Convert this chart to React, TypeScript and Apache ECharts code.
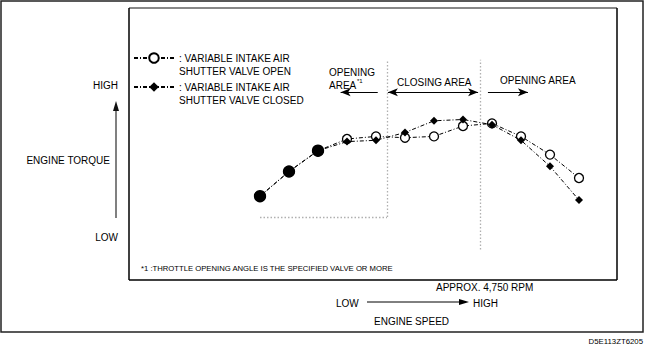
import React, { useEffect, useRef } from "react";
import * as echarts from "echarts";

// ---- data ----
const speedIdx = [1, 2, 3, 4, 5, 6, 7, 8, 9, 10, 11, 12];
const torqueOpen = [26, 45, 61, 70, 72, 71, 72, 80, 82, 72, 58, 40];
const torqueClosed = [26, 45, 61, 68, 69, 75, 84, 85, 81, 69, 49, 23];
const sharedCount = 3; // first points where both curves coincide
const nameOpen = "VARIABLE INTAKE AIR SHUTTER VALVE OPEN";
const nameClosed = "VARIABLE INTAKE AIR SHUTTER VALVE CLOSED";
// area boundaries (speed index) and levels (torque units)
const boundLeft = 5.38;
const boundRight = 8.59;
const lowLevel = 10;
const topLevel = 131;
const rightBottomLevel = -15;
const arrowLevel = 106;

const FONT = "'Liberation Sans', Arial, Helvetica, sans-serif";

export default function App() {
  const ref = useRef<HTMLDivElement>(null);
  useEffect(() => {
    if (!ref.current) return;
    const chart = echarts.init(ref.current, null, { renderer: "svg" });
    const dash = [4, 2, 1, 2];
    const openData = speedIdx.map((x, i) =>
      i < sharedCount
        ? { value: [x, torqueOpen[i]], symbolSize: 11, itemStyle: { color: "#000" } }
        : { value: [x, torqueOpen[i]] }
    );
    const closedData = speedIdx.map((x, i) =>
      i < sharedCount
        ? { value: [x, torqueClosed[i]], symbol: "circle", symbolSize: 11 }
        : { value: [x, torqueClosed[i]] }
    );
    const txt = (x: number, y: number, text: string, opts: any = {}) => ({
      type: "text",
      x,
      y,
      silent: true,
      style: {
        text,
        fill: "#000",
        font: `${opts.size || 10}px ${FONT}`,
        align: opts.align || "left",
        verticalAlign: "middle",
      },
    });
    const line = (x1: number, y1: number, x2: number, y2: number, stroke = "#000", w = 1.5) => ({
      type: "line",
      silent: true,
      shape: { x1, y1, x2, y2 },
      style: { stroke, lineWidth: w },
    });
    const legendText = { fontSize: 10, lineHeight: 13, fontFamily: FONT, color: "#000" };
    const option: any = {
      animation: false,
      backgroundColor: "#fff",
      grid: { left: 231, top: 48, width: 377, height: 208 },
      xAxis: { type: "value", min: 0, max: 13, show: false },
      yAxis: { type: "value", min: -20, max: 140, show: false },
      legend: [
        {
          data: [nameOpen],
          left: 133,
          top: 38.5,
          orient: "vertical",
          padding: 0,
          itemWidth: 40,
          itemHeight: 12,
          selectedMode: false,
          formatter: () => " \n: VARIABLE INTAKE AIR\nSHUTTER VALVE OPEN",
          textStyle: legendText,
        },
        {
          data: [nameClosed],
          left: 133,
          top: 67.5,
          orient: "vertical",
          padding: 0,
          itemWidth: 40,
          itemHeight: 12,
          selectedMode: false,
          formatter: () => " \n: VARIABLE INTAKE AIR\nSHUTTER VALVE CLOSED",
          textStyle: legendText,
        },
      ],
      series: [
        {
          name: nameOpen,
          type: "line",
          data: openData,
          symbol: "circle",
          symbolSize: 9,
          z: 2,
          itemStyle: { color: "#fff", borderColor: "#000", borderWidth: 1.3 },
          lineStyle: { color: "#000", width: 1, type: dash },
          markLine: {
            silent: true,
            symbol: "none",
            label: { show: false },
            lineStyle: { color: "#b0b0b0", type: [1.5, 2], width: 1.3 },
            data: [
              [{ coord: [speedIdx[0], lowLevel] }, { coord: [boundLeft, lowLevel] }],
              [{ coord: [boundLeft, lowLevel] }, { coord: [boundLeft, topLevel] }],
              [{ coord: [boundRight, rightBottomLevel] }, { coord: [boundRight, topLevel] }],
            ],
          },
        },
        {
          name: nameClosed,
          type: "line",
          data: closedData,
          symbol: "diamond",
          symbolSize: 8,
          z: 3,
          itemStyle: { color: "#000" },
          lineStyle: { color: "#000", width: 1, type: dash },
          markLine: {
            silent: true,
            symbol: "none",
            symbolSize: [6, 10],
            label: { show: false },
            lineStyle: { color: "#000", type: "solid", width: 1.2 },
            data: [
              [{ coord: [3.78, arrowLevel], symbol: "arrow" }, { coord: [5.06, arrowLevel], symbol: "none" }],
              [{ coord: [5.41, arrowLevel], symbol: "arrow" }, { coord: [8.52, arrowLevel], symbol: "arrow" }],
              [{ coord: [8.86, arrowLevel], symbol: "none" }, { coord: [10.24, arrowLevel], symbol: "arrow" }],
            ],
          },
        },
      ],
      graphic: {
        elements: [
          // outer frame
          { type: "rect", silent: true, shape: { x: 1, y: 1, width: 642, height: 331 }, style: { fill: "none", stroke: "#222", lineWidth: 1.5 } },
          // inner box
          line(129, 8, 617, 8, "#888", 2),
          line(129, 8, 129, 280, "#000", 1.5),
          line(617, 8, 617, 280, "#000", 1.5),
          line(129, 280, 617, 280, "#000", 1.5),
          // area labels
          txt(329, 72, "OPENING"),
          txt(329, 85, "AREA"),
          txt(357, 81, "*1", { size: 6 }),
          txt(397, 82, "CLOSING AREA"),
          txt(500, 80, "OPENING AREA"),
          // torque axis
          txt(118, 85, "HIGH", { align: "right" }),
          txt(110, 160, "ENGINE TORQUE", { align: "right" }),
          txt(118, 237, "LOW", { align: "right" }),
          line(116, 218, 116, 110, "#808080", 2),
          { type: "polygon", silent: true, shape: { points: [[116, 101], [113, 111], [119, 111]] }, style: { fill: "#111" } },
          // footnote
          txt(141, 268, "*1 :THROTTLE OPENING ANGLE IS THE SPECIFIED VALVE OR MORE", { size: 7.7 }),
          // speed axis
          txt(436, 287, "APPROX. 4,750 RPM"),
          txt(336, 303, "LOW"),
          line(367, 302, 460, 302, "#000", 1),
          { type: "polygon", silent: true, shape: { points: [[469, 302], [459, 299], [459, 305]] }, style: { fill: "#000" } },
          txt(473, 303, "HIGH"),
          txt(374, 321, "ENGINE SPEED"),
          txt(643, 341, "D5E113ZT6205", { size: 7.8, align: "right" }),
        ],
      },
    };
    chart.setOption(option);
    return () => chart.dispose();
  }, []);
  return (
    <div
      ref={ref}
      style={{ position: "absolute", left: 0, top: 0, width: 645, height: 353, background: "#fff" }}
    />
  );
}
